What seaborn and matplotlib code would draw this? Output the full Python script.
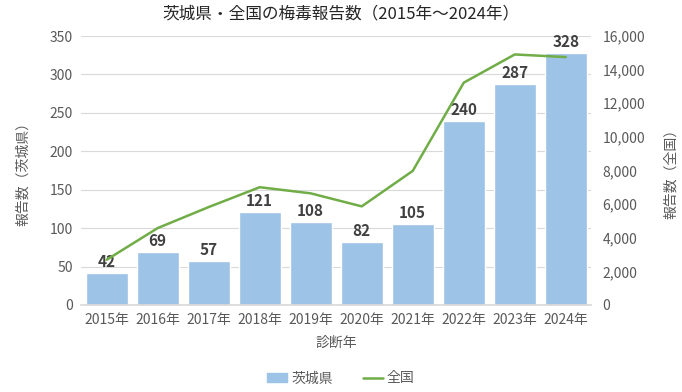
import matplotlib
matplotlib.use('Agg')
import matplotlib.pyplot as plt
import matplotlib.patches as mpatches
import matplotlib.lines as mlines
from matplotlib.ticker import FuncFormatter
import seaborn as sns
import pandas as pd

# ── data ────────────────────────────────────────────────────────────────
YEARS = ['2015年', '2016年', '2017年', '2018年', '2019年',
         '2020年', '2021年', '2022年', '2023年', '2024年']
IBARAKI = [42, 69, 57, 121, 108, 82, 105, 240, 287, 328]
NATIONAL = [2690, 4575, 5826, 7007, 6642, 5867, 7978, 13228, 14906, 14750]

BAR_COLOR = '#9DC3E6'
LINE_COLOR = '#70AD47'
TEXT_COLOR = '#595959'

sns.set_theme(style='white')
plt.rcParams['font.family'] = ['Noto Sans CJK JP', 'DejaVu Sans']

df = pd.DataFrame({'year': YEARS, 'ibaraki': IBARAKI, 'national': NATIONAL})

fig = plt.figure(figsize=(6.82, 3.92), dpi=100)
ax = fig.add_axes([0.119, 0.222, 0.748, 0.686])

sns.barplot(data=df, x='year', y='ibaraki', color=BAR_COLOR, width=0.82,
            saturation=1, ax=ax, zorder=2)
ax.set_ylim(0, 350)
ax.set_yticks(range(0, 351, 50))
ax.grid(axis='y', color='#D9D9D9', linewidth=0.8, zorder=0)
ax.set_axisbelow(True)
for s in ['top', 'left', 'right']:
    ax.spines[s].set_visible(False)
ax.spines['bottom'].set_color('#D9D9D9')
ax.tick_params(axis='both', labelsize=10, colors=TEXT_COLOR, length=0, pad=6)
ax.set_xlabel('診断年', fontsize=10, color=TEXT_COLOR, labelpad=6)
ax.set_ylabel('報告数（茨城県）', fontsize=10, color=TEXT_COLOR, labelpad=14)

for i, v in enumerate(IBARAKI):
    ax.text(i, v + 4, str(v), ha='center', va='bottom', fontsize=11,
            fontweight='bold', color='#404040', zorder=5)

ax2 = ax.twinx()
ax2.plot(range(len(YEARS)), NATIONAL, color=LINE_COLOR, linewidth=1.8, zorder=3)
ax2.set_ylim(0, 16000)
ax2.set_yticks(range(0, 16001, 2000))
ax2.yaxis.set_major_formatter(FuncFormatter(lambda x, p: f'{int(x):,}'))
for s in ['top', 'left', 'right', 'bottom']:
    ax2.spines[s].set_visible(False)
ax2.tick_params(axis='y', labelsize=10, colors=TEXT_COLOR, length=0, pad=8)
ax2.set_ylabel('報告数（全国）', fontsize=10, color=TEXT_COLOR, labelpad=14, rotation=90)
ax2.grid(False)
ax.set_xlim(-0.5, len(YEARS) - 0.5)

fig.suptitle('茨城県・全国の梅毒報告数（2015年～2024年）', fontsize=12,
             color='#262626', y=0.985)

handles = [mpatches.Patch(color=BAR_COLOR, label='茨城県'),
           mlines.Line2D([], [], color=LINE_COLOR, linewidth=1.8, label='全国')]
fig.legend(handles=handles, loc='lower center', ncol=2, frameon=False,
           bbox_to_anchor=(0.5, -0.015), fontsize=10, labelcolor=TEXT_COLOR,
           handlelength=1.4, handleheight=0.6, handletextpad=0.3,
           columnspacing=2.2)

fig.savefig('out.png', dpi=100)
